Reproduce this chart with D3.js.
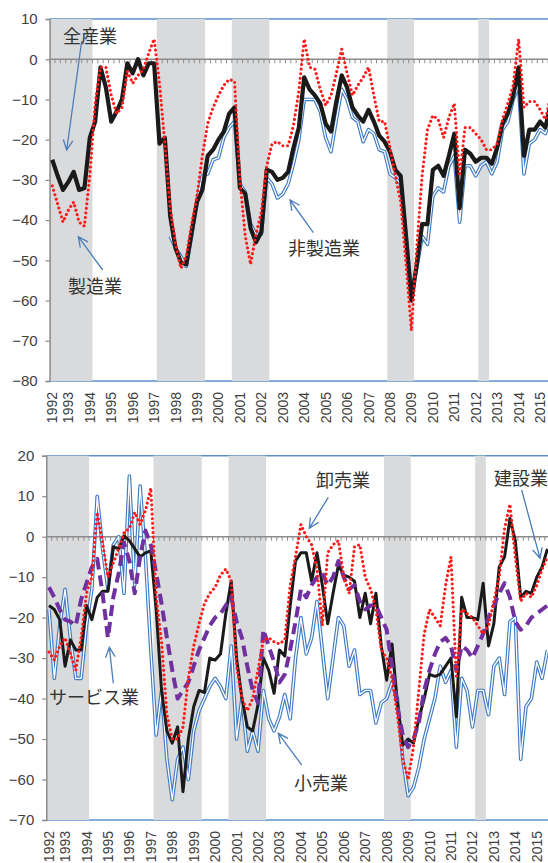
<!DOCTYPE html>
<html>
<head>
<meta charset="utf-8">
<script src="https://cdn.jsdelivr.net/npm/d3@7"></script>
<style>
  html, body { margin: 0; padding: 0; background: #fff; }
  svg { display: block; }
</style>
</head>
<body>
<svg id="chart" width="548" height="863"></svg>
<script>
// ---- categories: quarterly survey rounds, 1992Q2 .. 2015Q3 ----
const firstYear = 1992, firstQuarter = 2, quarterCount = 94;
const quarters = d3.range(quarterCount).map(i => {
  const k = firstQuarter - 1 + i;
  return `${firstYear + Math.floor(k / 4)}Q${(k % 4) + 1}`;
});
const yearLabels = d3.range(1992, 2016).map(String);

// recession periods (shaded)
const recessions = [
  ["1992Q2", "1994Q1"], ["1997Q2", "1999Q2"], ["2000Q4", "2002Q2"],
  ["2008Q1", "2009Q1"], ["2012Q2", "2012Q3"]
];

// ---- upper panel series ----
const allIndustries = [-25,-29,-32.5,-30.5,-28,-32.5,-32,-19.5,-15.5,-2,-7,-15.5,-13,-10,-1,-3.5,0,-4,-1,-1,
  -21,-19.5,-39,-47,-50.5,-51,-43,-35.5,-32.5,-24,-22.5,-20,-18,-13.5,-12,-32,-33.5,-42,-45.5,-43,
  -27.5,-28,-30,-29.5,-28,-22,-17,-4.5,-7.5,-9,-11,-16,-18,-10.5,-4,-7,-12,-14,-15.5,-12.6,
  -15.5,-19,-20.5,-23,-27.5,-29,-44,-60,-51,-41,-41,-27.5,-26.5,-29,-24,-18.5,-37,-22.5,-23.5,-25.5,
  -24.5,-24.5,-26,-22,-16,-13.5,-9,-2,-24,-17.5,-17.5,-15.5,-17,-11];
const manufacturing = [-31.5,-36,-40.5,-37.5,-35.5,-40.5,-41.5,-29,-11,-2,-2,-9,-13.5,-12,-3,-6,-4,-2.5,1.5,5,
  -6,-21,-37,-46,-52,-49,-41,-34,-24,-16,-12,-9,-6.5,-5,-5.5,-30,-44,-51,-43.5,-38,
  -26.5,-21,-20.5,-21.5,-21.5,-16.5,-8,5,-2,-2.5,-7.5,-11.5,-9,-3.5,2.5,-3.5,-9,-6.5,-4.5,-2,
  -9,-15.5,-15.5,-22,-29,-35.5,-51,-67.5,-47,-29,-17.5,-14,-15,-19.5,-14.5,-11,-29,-17,-17,-18.5,
  -20,-22.5,-22.5,-21,-15,-11,-6.5,5,-12,-10.5,-10.5,-12.5,-15,-9];
// non-manufacturing starts in 1997Q4
const nonManufacturing = [null,null,null,null,null,null,null,null,null,null,null,null,null,null,null,null,null,null,null,null,
  null,null,-44,-47,-49,-51.5,-44,-35,-29,-28.5,-25,-24.5,-19.5,-17,-15.5,-31,-33,-41,-43.5,-43.5,
  -29.5,-31,-34.5,-33.5,-31,-26,-20,-10,-10,-10,-13,-19.5,-23,-15,-7.5,-10,-14.5,-15.5,-20.5,-17.5,
  -18.5,-22.5,-23,-28.5,-29.5,-31,-44,-57.5,-52,-44,-46,-34,-32,-33,-26.5,-24,-40.5,-26.5,-26.5,-29,
  -26.5,-25.5,-28.5,-25.5,-17.5,-15.5,-10,-6.5,-28.5,-21,-20,-17.5,-18.5,-14];

// ---- lower panel series ----
const construction = [-17,-18,-20.5,-32,-25.5,-28,-28,-17,-20.5,-15,-13.5,-13.5,-2.5,-3,0.2,-1,-3,-5,-4,-3.5,
  -18,-38,-48,-51,-47,-63,-50,-42,-38,-38.5,-30,-30.5,-29,-19,-11,-30,-40,-47,-48,-41.5,
  -30,-33,-38.7,-28,-29.5,-17,-6,-4,-4,-11,-4,-12,-21.5,-14,-7,-9.5,-10,-11,-20,-14,
  -21.5,-14,-27,-35.5,-26.5,-41,-51.5,-50,-51,-45,-40,-34,-34.5,-34,-32,-30,-44.5,-15,-20,-20,
  -20.5,-11.5,-27,-21.5,-7.5,-5,4.5,-1,-15,-13.5,-14,-10,-7.5,-3];
const wholesale = [-28.5,-30.5,-27,-25,-29,-33,-25,-14,-10,6,-1.5,-10,-6.5,-3,1,2,6,3,6.5,12,
  -15,-26,-44,-50,-50,-47,-35,-27,-21.5,-16.5,-14,-12.5,-9.5,-8,-11,-32,-40,-43,-40,-33,
  -25.5,-25,-26,-26.5,-25.5,-12,-5,3,0,-2,-8,-22,-4,-2,-1,-10,-14,-2.5,-2,-10,
  -13,-18,-28,-30,-35,-44,-55,-60,-52,-38,-24,-18,-20,-22,-12,-5,-35,-18,-19,-20,
  -22,-24,-22,-16,-10,2,8,-5,-16,-14,-15,-12,-8,-5];
const services = [-12.5,-15,-18,-20.5,-21,-22,-15.5,-11.5,-7.5,-5.5,-14,-25,-15,-9,-1.5,-6,-14,-5,1.5,-2,
  -9,-16.5,-25,-33,-40,-38,-36,-32,-28,-25,-22,-20,-19,-17,-15,-21,-25,-32,-38,-41,
  -23,-27,-31,-36,-34,-28,-21,-13,-15,-12,-10,-9,-12,-10,-6,-10,-13,-12,-16,-18,
  -17,-17,-20,-23,-32,-42,-49,-52,-50,-46,-38,-33,-29,-26,-25,-27,-33,-27,-28,-30,
  -27,-24,-20,-17,-14,-11.5,-15,-21,-23,-22,-20,-19,-18,-17];
const retail = [-18,-35,-22,-13,-25,-35,-35,-22,-13,10,-3,-13,-2,0,-14,15,-12,12.5,-5,-28,
  -49,-38,-55,-65,-55,-52,-60,-48,-43,-40,-37,-35,-37,-40,-27,-50,-40,-53,-48,-53,
  -38,-45,-48,-44.5,-39,-45,-30,-20,-29,-25,-16,-28,-40,-30,-20,-22,-32,-28,-39,-38,
  -38,-46,-41,-40,-36,-40,-55,-64,-62,-57,-50,-45,-40,-32,-36,-33,-52,-35,-38,-47,
  -38,-38,-44,-32,-30,-39,-21,-20,-55,-42,-40,-31,-35,-28];

// ---- styles ----
const styles = {
  thickBlack: { color: "#1a1a1a", width: 4.2 },
  black: { color: "#1a1a1a", width: 3 },
  dotted: { color: "#ff1a1a", width: 3.1, dash: "0.01 4.6" },
  dashed: { color: "#7030a0", width: 4, dash: "11 6" },
  double: { color: "#3f7cc4", width: 3.6, inner: 1.3 }
};

const panels = [
  {
    top: 19, bottom: 381, left: 49.6, domain: [-80, 10],
    series: [
      { values: nonManufacturing, style: "double" },
      { values: allIndustries, style: "thickBlack" },
      { values: manufacturing, style: "dotted" }
    ],
    notes: [
      { text: "全産業", x: 63, y: 35, from: [81.7, 41], to: [66.7, 150] },
      { text: "製造業", x: 68, y: 285, from: [102.7, 270], to: [78.3, 236.7] },
      { text: "非製造業", x: 288, y: 247, from: [313.3, 232.7], to: [290, 200] }
    ]
  },
  {
    top: 455.7, bottom: 820, left: 46.3, domain: [-70, 20],
    series: [
      { values: retail, style: "double" },
      { values: construction, style: "black" },
      { values: services, style: "dashed" },
      { values: wholesale, style: "dotted" }
    ],
    notes: [
      { text: "卸売業", x: 316, y: 479, from: [328.3, 497.3], to: [309.3, 528.3] },
      { text: "建設業", x: 494, y: 477, from: [521.7, 490], to: [540, 558.3] },
      { text: "サービス業", x: 49, y: 696, from: [113.3, 683.3], to: [109.3, 647.3] },
      { text: "小売業", x: 294, y: 782, from: [301.7, 765], to: [278.3, 733.3] }
    ]
  }
];

const step = 5.36;
const svg = d3.select("#chart");
const tickColor = "#8c8c8c";
const textColor = "#404040";
const borderBlue = "#5d8fcb";

panels.forEach(p => {
  const x = d3.scaleBand().domain(quarters)
    .range([p.left, p.left + quarterCount * step]).padding(0);
  const y = d3.scaleLinear().domain(p.domain).range([p.bottom, p.top]);
  const cx = q => x(q) + x.bandwidth() / 2;
  const g = svg.append("g");

  // frame lines top & bottom
  [p.domain[1], p.domain[0]].forEach(v => {
    g.append("line").attr("x1", p.left).attr("x2", 548)
      .attr("y1", y(v)).attr("y2", y(v))
      .attr("stroke", borderBlue).attr("stroke-width", 1.5);
  });

  // recession shading
  g.selectAll("rect.band").data(recessions).join("rect")
    .attr("x", d => x(d[0]))
    .attr("width", d => x(d[1]) + x.bandwidth() - x(d[0]))
    .attr("y", p.top).attr("height", p.bottom - p.top)
    .attr("fill", "#d9dadc");

  // y axis
  const yAxis = d3.axisLeft(y).tickValues(d3.range(p.domain[0], p.domain[1] + 1, 10))
    .tickSize(4).tickPadding(8).tickFormat(d3.format("d"));
  const ya = g.append("g").attr("transform", `translate(${p.left},0)`).call(yAxis);
  ya.select(".domain").attr("stroke", tickColor).attr("stroke-width", 1.5);
  ya.selectAll(".tick line").attr("stroke", tickColor).attr("stroke-width", 1.2);
  ya.selectAll(".tick text").attr("fill", textColor)
    .style("font-family", "'Liberation Sans', Arial, sans-serif").style("font-size", "15px");

  // zero line with quarter ticks
  const zeroAxis = d3.axisBottom(x).tickValues(quarters).tickSize(4).tickFormat("");
  const za = g.append("g").attr("transform", `translate(0,${y(0)})`).call(zeroAxis);
  za.select(".domain").attr("stroke", tickColor).attr("stroke-width", 1.5)
    .attr("d", `M${p.left},0H${548}`);
  za.selectAll(".tick").attr("transform", d => `translate(${x(d)},0)`);
  za.selectAll(".tick line").attr("stroke", tickColor).attr("stroke-width", 1);

  // year labels
  g.selectAll("text.year").data(yearLabels).join("text")
    .attr("class", "year")
    .attr("transform", d => {
      const q = quarters.includes(d + "Q1") ? d + "Q1" : quarters[0];
      return `translate(${cx(q)},${p.bottom + 11}) rotate(-90)`;
    })
    .attr("text-anchor", "end").attr("dominant-baseline", "central")
    .attr("fill", textColor)
    .style("font-family", "'Liberation Sans', Arial, sans-serif").style("font-size", "14px")
    .text(d => d);

  // series
  const line = d3.line()
    .defined(d => d[1] != null)
    .x(d => cx(d[0])).y(d => y(d[1]));
  p.series.forEach(s => {
    const st = styles[s.style];
    const pts = quarters.map((q, i) => [q, s.values[i]]);
    const path = g.append("path").attr("d", line(pts)).attr("fill", "none")
      .attr("stroke", st.color).attr("stroke-width", st.width)
      .attr("stroke-linejoin", "round");
    if (st.dash) path.attr("stroke-dasharray", st.dash);
    if (s.style === "dotted") path.attr("stroke-linecap", "round");
    if (st.inner) {
      g.append("path").attr("d", line(pts)).attr("fill", "none")
        .attr("stroke", "#fff").attr("stroke-width", st.inner)
        .attr("stroke-linejoin", "round");
    }
  });

  // annotations with arrows
  p.notes.forEach(n => {
    g.append("text").attr("x", n.x).attr("y", n.y)
      .attr("dominant-baseline", "central")
      .attr("fill", "#333")
      .style("font-family", "'Noto Sans CJK JP', sans-serif").style("font-size", "18px")
      .text(n.text);
    const [x1, y1] = n.from, [x2, y2] = n.to;
    const a = Math.atan2(y2 - y1, x2 - x1), L = 11, spread = 0.45;
    const b1 = [x2 - L * Math.cos(a - spread), y2 - L * Math.sin(a - spread)];
    const b2 = [x2 - L * Math.cos(a + spread), y2 - L * Math.sin(a + spread)];
    g.append("path")
      .attr("d", `M${x1},${y1}L${x2},${y2}M${b1[0]},${b1[1]}L${x2},${y2}L${b2[0]},${b2[1]}`)
      .attr("fill", "none").attr("stroke", "#4a7ebb").attr("stroke-width", 1.3);
  });
});
</script>
</body>
</html>
